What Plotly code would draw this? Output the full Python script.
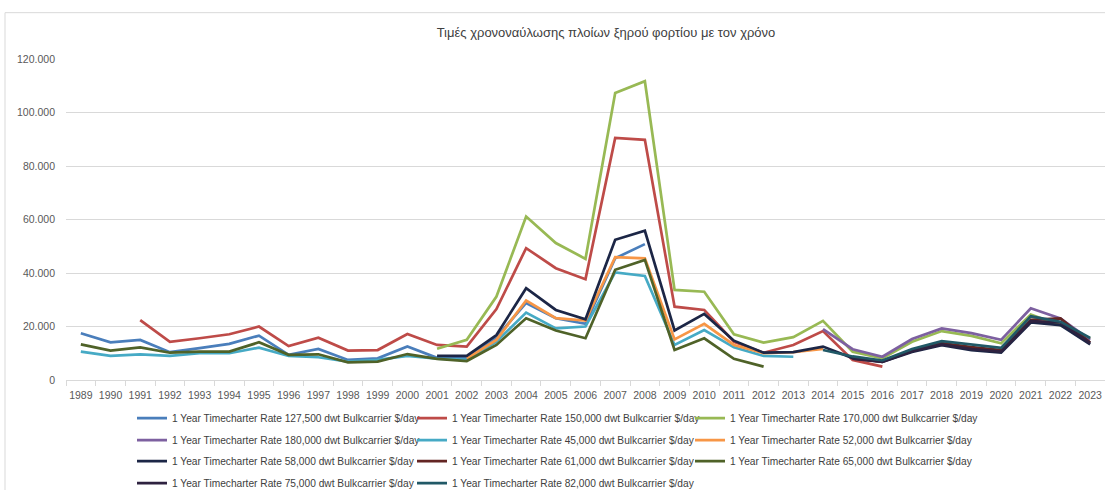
import plotly.graph_objects as go

years = [str(y) for y in range(1989, 2024)]

N = None
# 1 Year timecharter rates, $/day
rate_127500 = [17500, 14100, 15000, 10400, 11900, 13500, 16600, 9400, 11600, 7500,
               8100, 12500, 8300, 8300, 16000, 28800, 23100, 21000, 45500, 50800,
               N, N, N, N, N, N, N, N, N, N, N, N, N, N, N]
rate_150000 = [N, N, 22400, 14300, 15600, 17100, 20000, 12700, 15800, 11000,
               11200, 17200, 13100, 12500, 26500, 49300, 41800, 37700, 90500, 89800,
               27400, 26200, 14300, 10200, 13100, 18300, 7500, 5000,
               N, N, N, N, N, N, N]
rate_170000 = [N, N, N, N, N, N, N, N, N, N,
               N, N, 11700, 15000, 31200, 61100, 51200, 45300, 107300, 111700,
               33700, 33000, 17100, 14000, 16000, 22100, 10600, 8100, 14300, 18300,
               16500, 13700, 24500, 20500, 15500]
rate_180000 = [N] * 25 + [19000, 11500, 8700, 15300, 19300, 17500, 15000, 26800, 23000, 15000]
rate_45000 = [10600, 9000, 9600, 9000, 10000, 10000, 12100, 9000, 8500, 6900,
              7500, 9000, 8000, 7500, 14300, 25200, 19300, 20000, 40200, 38900,
              13100, 18700, 12200, 9000, 8700,
              N, N, N, N, N, N, N, N, N, N]
rate_52000 = [N, N, N, N, N, N, N, N, N, N,
              N, N, N, 8000, 15000, 29700, 23100, 22200, 45900, 45500,
              15200, 21000, 13100, 10000, 10400, 11600,
              N, N, N, N, N, N, N, N, N]
rate_58000 = [N, N, N, N, N, N, N, N, N, N,
              N, N, 9000, 9000, 16800, 34300, 26200, 22700, 52400, 55800,
              18500, 24700, 14700, 10200, 10400, 12500, 8200, 6800, 10500, 13000,
              11200, 10200, 21500, 20500, 13300]
rate_61000 = [N] * 26 + [8000, 7000, 11000, 13800, 12300, 11200, 22500, 23000, 14000]
rate_65000 = [13300, 11000, 12200, 10200, 10600, 10600, 14100, 9400, 9600, 6600,
              6900, 9700, 7900, 7100, 13100, 23100, 18500, 15600, 41200, 44900,
              11200, 15600, 7900, 5000,
              N, N, N, N, N, N, N, N, N, N, N]
rate_75000 = [N] * 26 + [8000, 6800, 10800, 13300, 11600, 10600, 22000, 21500, 13800]
rate_82000 = [N] * 25 + [11200, 8800, 7300, 11600, 14500, 13200, 12000, 23800, 21800, 15700]

series_names = [
    "1 Year Timecharter Rate 127,500 dwt Bulkcarrier $/day",
    "1 Year Timecharter Rate 150,000 dwt Bulkcarrier $/day",
    "1 Year Timecharter Rate 170,000 dwt Bulkcarrier $/day",
    "1 Year Timecharter Rate 180,000 dwt Bulkcarrier $/day",
    "1 Year Timecharter Rate 45,000 dwt Bulkcarrier $/day",
    "1 Year Timecharter Rate 52,000 dwt Bulkcarrier $/day",
    "1 Year Timecharter Rate 58,000 dwt Bulkcarrier $/day",
    "1 Year Timecharter Rate 61,000 dwt Bulkcarrier $/day",
    "1 Year Timecharter Rate 65,000 dwt Bulkcarrier $/day",
    "1 Year Timecharter Rate 75,000 dwt Bulkcarrier $/day",
    "1 Year Timecharter Rate 82,000 dwt Bulkcarrier $/day",
]
series_values = [rate_127500, rate_150000, rate_170000, rate_180000, rate_45000,
                 rate_52000, rate_58000, rate_61000, rate_65000, rate_75000, rate_82000]
colors = ["#4A7EBB", "#BE4B48", "#98B954", "#7D60A0", "#46AAC5", "#F79646",
          "#1C2646", "#632523", "#4F6228", "#2E2240", "#215967"]

FONT = "Liberation Sans, Arial, sans-serif"

# plot area: x 66..1105 px, y 59..380 px
PL, PW, PT, PB = 66, 1039, 59.3, 380.0
PH = PB - PT


def px_x(x):
    return (x - PL) / PW


def px_y(y):
    return (PB - y) / PH


# legend grid: three entries per row
col_x = [132, 412, 690]
row_y = [418, 440, 461, 483]

fig = go.Figure()
legends = {}
for i, (name, vals, col) in enumerate(zip(series_names, series_values, colors)):
    lg = "legend" if i == 0 else f"legend{i + 1}"
    fig.add_trace(go.Scatter(
        x=years, y=vals, name=name, mode="lines",
        line=dict(color=col, width=2.7),
        legend=lg,
    ))
    legends[lg] = dict(
        orientation="h", xanchor="left", yanchor="middle",
        x=px_x(col_x[i % 3]), y=px_y(row_y[i // 3]),
        font=dict(family=FONT, size=10.2, color="#404040"),
        bgcolor="rgba(0,0,0,0)", itemwidth=30,
    )

fig.update_layout(
    width=1105, height=490,
    margin=dict(l=PL, r=0, t=PT, b=490 - PB, pad=0, autoexpand=False),
    paper_bgcolor="white", plot_bgcolor="white",
    separators=",.",
    title=dict(
        text="Τιμές χρονοναύλωσης πλοίων ξηρού φορτίου με τον χρόνο",
        x=606 / 1105, xref="container", xanchor="center",
        y=1 - 32 / 490, yanchor="middle",
        font=dict(family=FONT, size=13, color="#404040"),
    ),
    xaxis=dict(
        type="category", showgrid=False, showline=True, linecolor="#D9D9D9",
        linewidth=1, ticks="outside", tickson="boundaries", ticklen=5,
        tickcolor="#D9D9D9", tickangle=0, ticklabelstandoff=5,
        tickfont=dict(family=FONT, size=10.5, color="#595959"),
        range=[-0.5, len(years) - 0.5], fixedrange=True,
    ),
    yaxis=dict(
        range=[0, 120000], dtick=20000, tickformat=",d",
        showgrid=True, gridcolor="#D9D9D9", gridwidth=1, zeroline=False,
        showline=False, ticks="", ticklabelstandoff=10,
        tickfont=dict(family=FONT, size=10.5, color="#595959"),
        fixedrange=True,
    ),
    showlegend=True,
    **legends,
)

# chart frame
fig.add_shape(type="rect", xref="paper", yref="paper",
              x0=px_x(5), x1=px_x(1110), y0=px_y(495), y1=px_y(13),
              line=dict(color="#D9D9D9", width=1), fillcolor="rgba(0,0,0,0)",
              layer="below")

fig.write_html("out.html")
